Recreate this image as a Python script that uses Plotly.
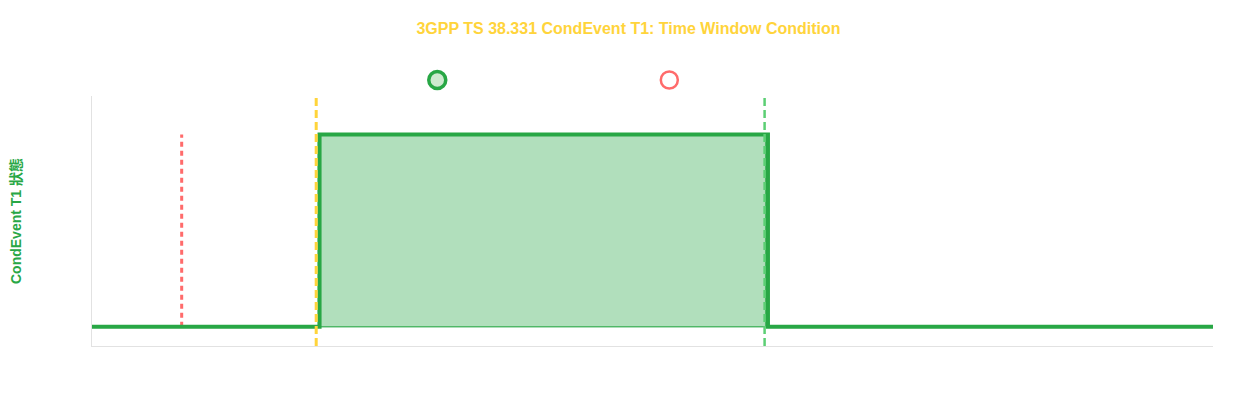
import plotly.graph_objects as go

# Data
title_text = "3GPP TS 38.331 CondEvent T1: Time Window Condition"
y_title = "CondEvent T1 狀態"
x_range = [0, 50]
y_range = [-0.1, 1.2]

# Step line of CondEvent T1 state
state_t = [0, 10.15, 10.15, 30.15, 30.15, 50]
state_v = [0, 0, 1, 1, 0, 0]

# Filled window (t1Threshold .. t1Threshold + duration)
window_t = [10.1, 10.1, 30.05, 30.05, 10.1]
window_v = [0, 1, 1, 0, 0]

# Vertical markers
red_t = 4
red_v = [0, 1]
yellow_t = 10
green_t = 30
vline_v = [-0.1, 1.19]

# Status markers above the plot (on an overlay axis 0..1)
marker_green_t = 15.4
marker_red_t = 25.75
marker_y = 0.95

GREEN = "#28a745"
RED = "#ff6b6b"
YELLOW = "#ffd43b"
LGREEN = "#5ccf74"

fig = go.Figure()

fig.add_trace(go.Scatter(
    x=window_t, y=window_v, mode="lines", fill="toself",
    fillcolor="rgba(40,167,69,0.36)",
    line=dict(color="rgba(40,167,69,0.75)", width=1.5),
    hoverinfo="skip", showlegend=False))

fig.add_trace(go.Scatter(
    x=[red_t, red_t], y=red_v, mode="lines",
    line=dict(color=RED, width=3, dash="5px,4px"),
    showlegend=False, hoverinfo="skip"))

fig.add_trace(go.Scatter(
    x=state_t, y=state_v, mode="lines",
    line=dict(color=GREEN, width=4),
    showlegend=False))

fig.add_trace(go.Scatter(
    x=[yellow_t, yellow_t], y=vline_v, mode="lines",
    line=dict(color=YELLOW, width=3, dash="8px,4px"),
    showlegend=False, hoverinfo="skip", cliponaxis=False))

fig.add_trace(go.Scatter(
    x=[green_t, green_t], y=vline_v, mode="lines",
    line=dict(color=LGREEN, width=2.5, dash="8px,4px"),
    showlegend=False, hoverinfo="skip", cliponaxis=False))

fig.add_trace(go.Scatter(
    x=[marker_green_t], y=[marker_y], mode="markers", yaxis="y2",
    marker=dict(size=17, color="#cdeacf", line=dict(color=GREEN, width=3.5)),
    showlegend=False))

fig.add_trace(go.Scatter(
    x=[marker_red_t], y=[marker_y], mode="markers", yaxis="y2",
    marker=dict(size=17, color="white", line=dict(color=RED, width=2.5)),
    showlegend=False))

fig.update_layout(
    width=1241, height=384,
    margin=dict(l=84, r=36, t=58, b=46),
    paper_bgcolor="white", plot_bgcolor="rgba(0,0,0,0)",
    title=dict(text=title_text, x=0.5, xanchor="center", y=0.948, yanchor="middle",
               font=dict(family="Liberation Sans, Arial, sans-serif", size=16, color=YELLOW,
                         weight="bold")),
    xaxis=dict(range=x_range, showgrid=False, zeroline=False, showticklabels=False,
               ticks="", showline=True, linecolor="#e2e2e2", linewidth=1, automargin=False),
    yaxis=dict(range=y_range, domain=[0, 250 / 280], showgrid=False, zeroline=False,
               showticklabels=False, ticks="", showline=True, linecolor="#e2e2e2", linewidth=1,
               automargin=False,
               title=dict(text=y_title, standoff=68,
                          font=dict(family="Liberation Sans, Noto Sans CJK TC, Arial, sans-serif",
                                    size=14, color=GREEN, weight="bold"))),
    yaxis2=dict(range=[0, 1], domain=[0, 1], anchor="x",
                visible=False, fixedrange=True, automargin=False),
    showlegend=False,
)

fig.write_html("out.html")
